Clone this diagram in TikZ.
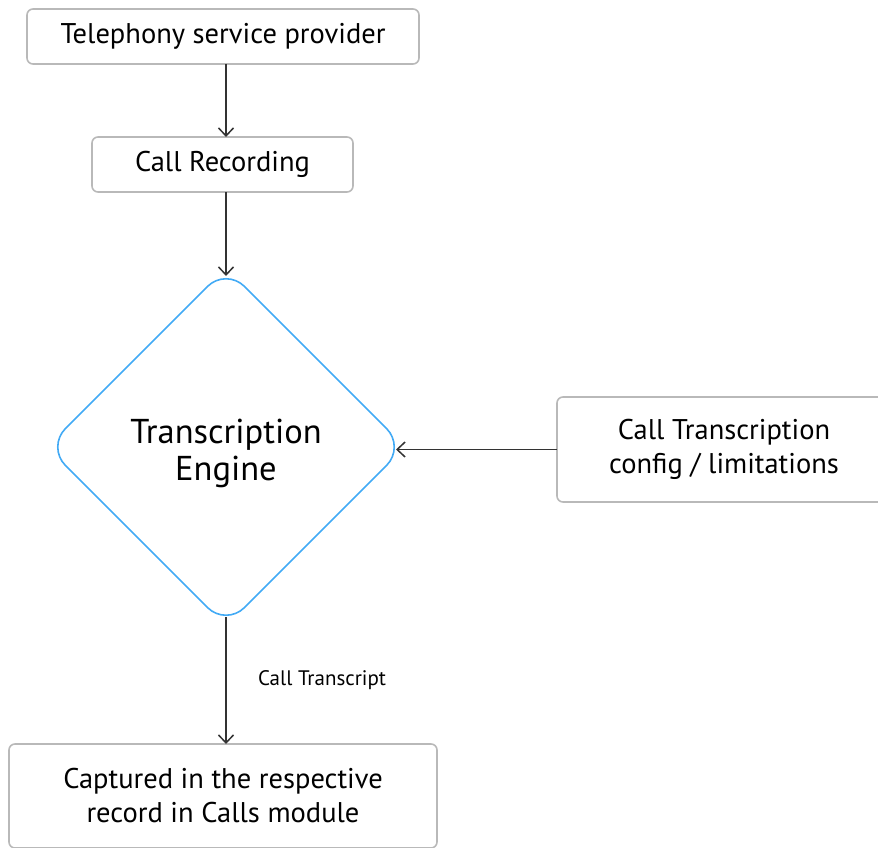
\documentclass[tikz,border=0pt]{standalone}
\usepackage{fontspec}
\setmainfont{PT Sans}
\usetikzlibrary{arrows.meta,positioning,calc,shapes.geometric}
\definecolor{boxgray}{RGB}{185,185,185}
\definecolor{arrgray}{RGB}{51,51,51}
\definecolor{engblue}{RGB}{66,170,245}
\tikzset{
  blk/.style={draw=boxgray, line width=1.6pt, rounded corners=6pt, inner sep=0pt,
              outer sep=0pt, align=center, font=\fontsize{28.5}{34}\selectfont},
  flowarr/.style={-{Straight Barb[length=8pt,width=15pt]}, arrgray, line width=1.5pt},
  eng/.style={diamond, draw=engblue, line width=1.6pt, rounded corners=26pt,
              minimum width=358pt, minimum height=358pt, inner sep=0pt, outer sep=0pt,
              align=center, font=\fontsize{34.5}{37}\selectfont},
  lbl/.style={font=\fontsize{21}{24}\selectfont, text=black},
}

\begin{document}
\begin{tikzpicture}[x=1pt, y=-1pt]
        \clip (0,0) rectangle (878,848);
        \node[blk, minimum width=392pt, minimum height=55pt] (tsp) at (223,36.5) {Telephony service provider};
        \node[blk, minimum width=261pt, minimum height=55pt] (rec) at (222.5,164.5) {Call Recording};
        \node[eng] (eng) at (226,447) {\raisebox{-8pt}[\height][\depth]{\begin{tabular}{@{}c@{}}Transcription\\Engine\end{tabular}}};
        \node[blk, minimum width=334pt, minimum height=105pt] (cfg) at (724,449.5) {Call Transcription\\config / limitations};
        \node[blk, minimum width=428pt, minimum height=104pt] (cap) at (223,796) {Captured in the respective\\record in Calls module};
        % connectors
        \draw[flowarr] (tsp.south -| eng) -- (rec.north -| eng);
        \draw[flowarr] (rec.south -| eng) -- ([yshift=-8pt]eng.north);
        \draw[flowarr] (cfg.west) -- ([xshift=-9pt]cfg.west -| eng.east);
        \draw[flowarr] ([yshift=9pt]eng.south) -- (cap.north -| eng)
          node[lbl, midway, right=28pt] (ctl) {Call Transcript};
      \end{tikzpicture}
\end{document}
